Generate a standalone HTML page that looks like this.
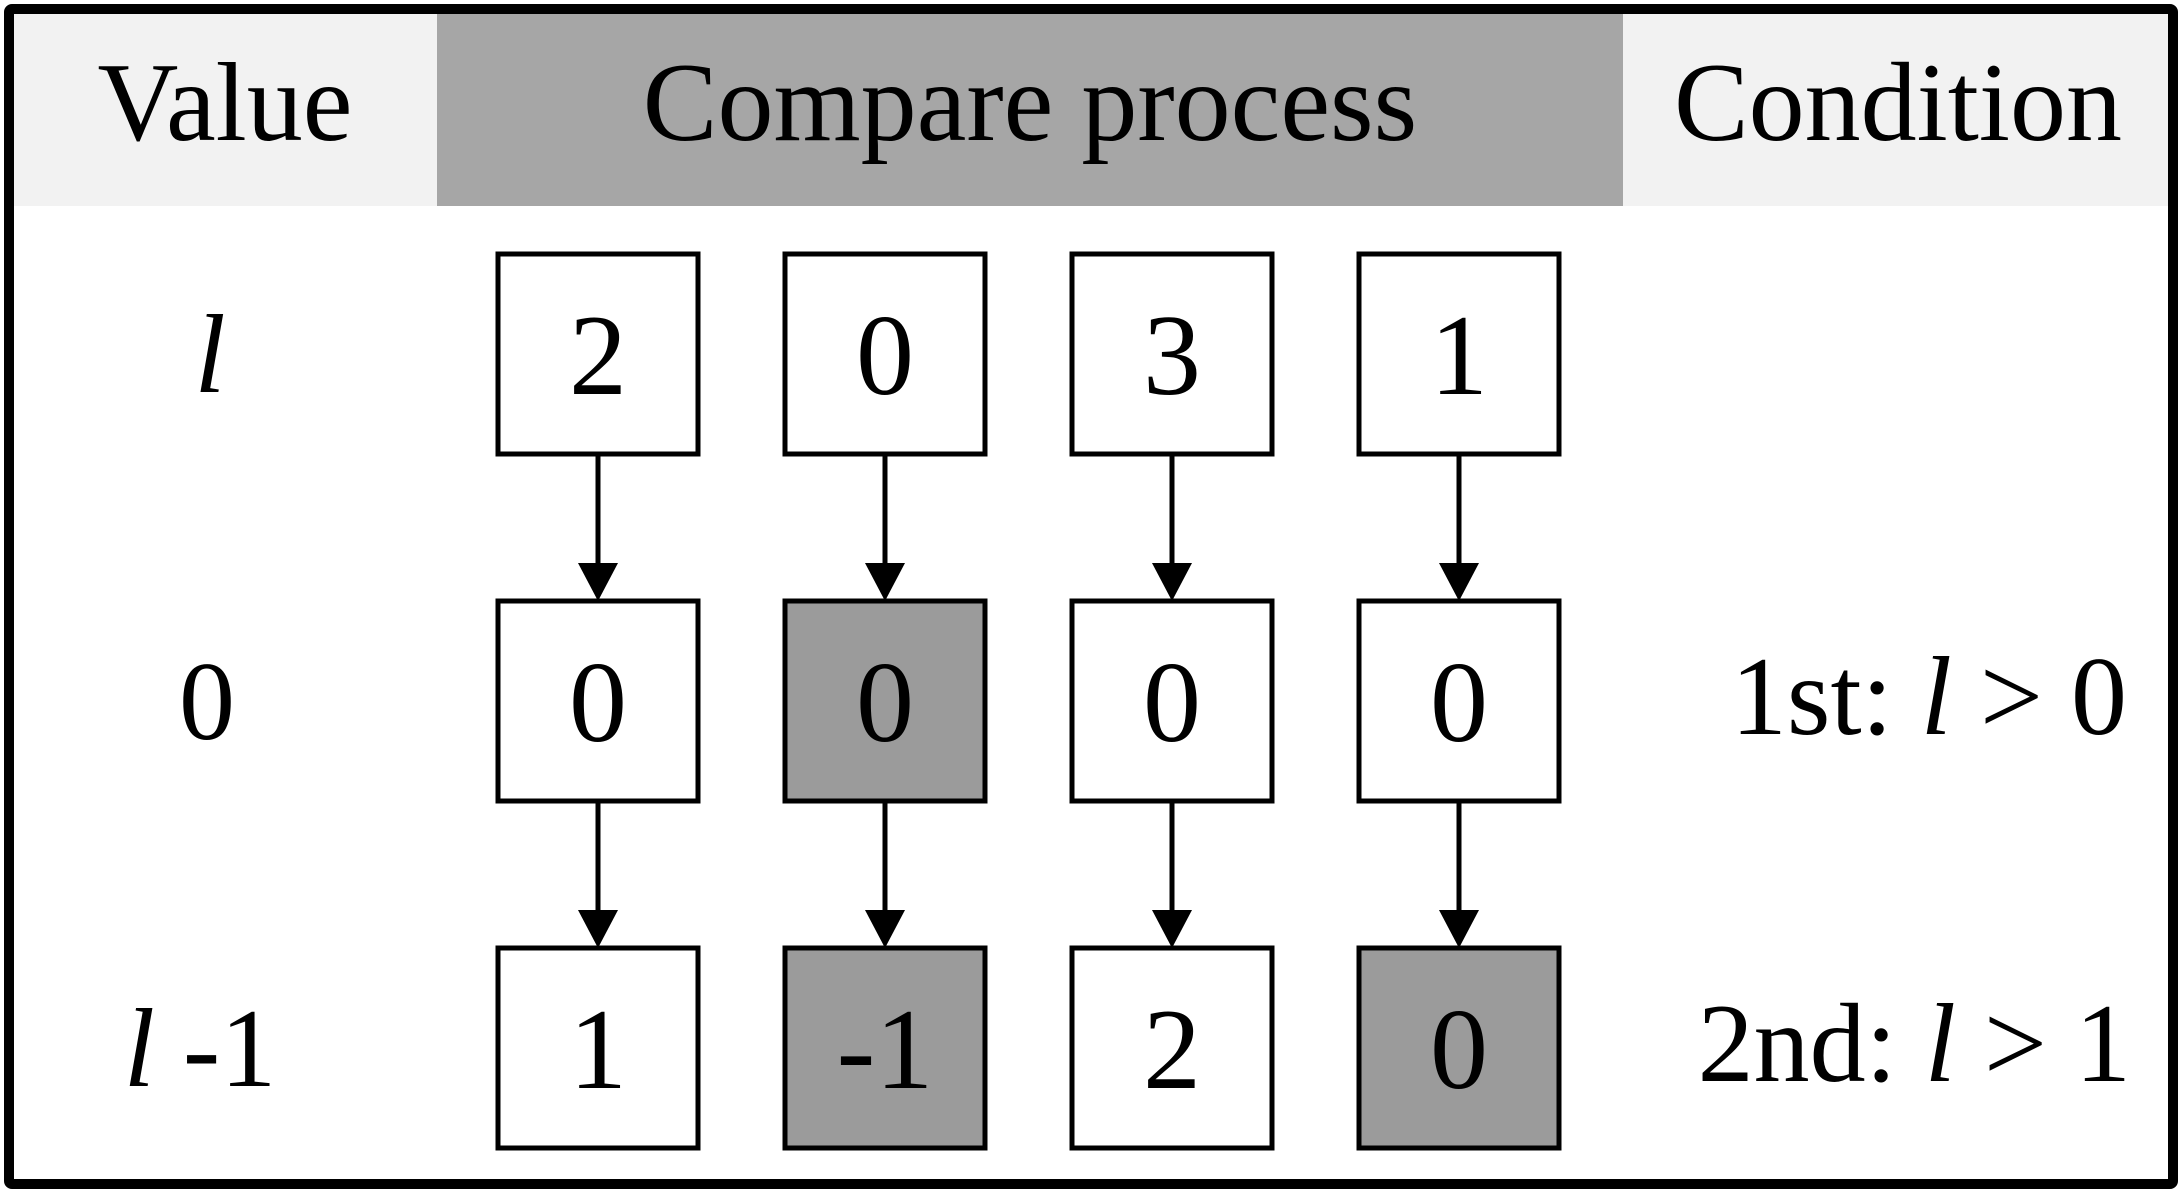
<!DOCTYPE html>
<html><head><meta charset="utf-8"><style>
html,body{margin:0;padding:0;background:#fff;}
svg{display:block;font-family:"Liberation Serif",serif;}
</style></head><body>
<svg id="fig" width="2182" height="1193" viewBox="0 0 2182 1193" xmlns="http://www.w3.org/2000/svg">
<rect x="12" y="12" width="425" height="194" fill="#f2f2f2"/>
<rect x="437" y="12" width="1186" height="194" fill="#a6a6a6"/>
<rect x="1623" y="12" width="550" height="194" fill="#f2f2f2"/>
<text x="225" y="140" font-size="112" text-anchor="middle">Value</text>
<text x="1030" y="140" font-size="112" text-anchor="middle">Compare process</text>
<text x="1898" y="140" font-size="112" text-anchor="middle">Condition</text>
<text x="210" y="392" font-size="112" text-anchor="middle" font-style="italic">l</text>
<text x="207" y="739" font-size="112" text-anchor="middle">0</text>
<text x="200" y="1086" font-size="112" text-anchor="middle"><tspan font-style="italic">l</tspan> -1</text>
<text x="2127" y="734" font-size="112" text-anchor="end">1st: <tspan font-style="italic">l</tspan> &gt; 0</text>
<text x="2131" y="1081" font-size="112" text-anchor="end">2nd: <tspan font-style="italic">l</tspan>  &gt; 1</text>
<g id="cells"></g>
<rect x="9" y="9" width="2164" height="1175" fill="none" stroke="#000" stroke-width="10" rx="3"/>
</svg>
<script>
const rowTop=[2,0,3,1];
const rowMid=[0,0,0,0];
const rowBot=[1,-1,2,0];
const hlMid=[false,true,false,false];
const hlBot=[false,true,false,true];
const NS='http://www.w3.org/2000/svg';
const g=document.getElementById('cells');
const colX=i=>498+i*287;
const rowY=r=>254+r*347;
const W=200,H=200;
function mk(t,a){const e=document.createElementNS(NS,t);for(const k in a)e.setAttribute(k,a[k]);g.appendChild(e);return e;}
const rows=[[rowTop,[false,false,false,false]],[rowMid,hlMid],[rowBot,hlBot]];
rows.forEach((rw,r)=>{
  rw[0].forEach((v,i)=>{
    const b=mk('rect',{x:colX(i),y:rowY(r),width:W,height:H,fill:rw[1][i]?'#9b9b9b':'#fff',stroke:'#000','stroke-width':5});
    
    
    const t=mk('text',{x:colX(i)+W/2,y:rowY(r)+H/2+40,'font-size':116,'text-anchor':'middle'});
    t.textContent=String(v);
    
    
    if(r<2){
      const cx=colX(i)+W/2,y1=rowY(r)+H,y2=rowY(r+1);
      const l=mk('line',{x1:cx,y1:y1,x2:cx,y2:y2-36,stroke:'#000','stroke-width':5});
      
      
      const p=mk('polygon',{points:`${cx-20},${y2-38} ${cx+20},${y2-38} ${cx},${y2}`,fill:'#000'});
      
      
    }
  });
});
</script>
</body></html>
